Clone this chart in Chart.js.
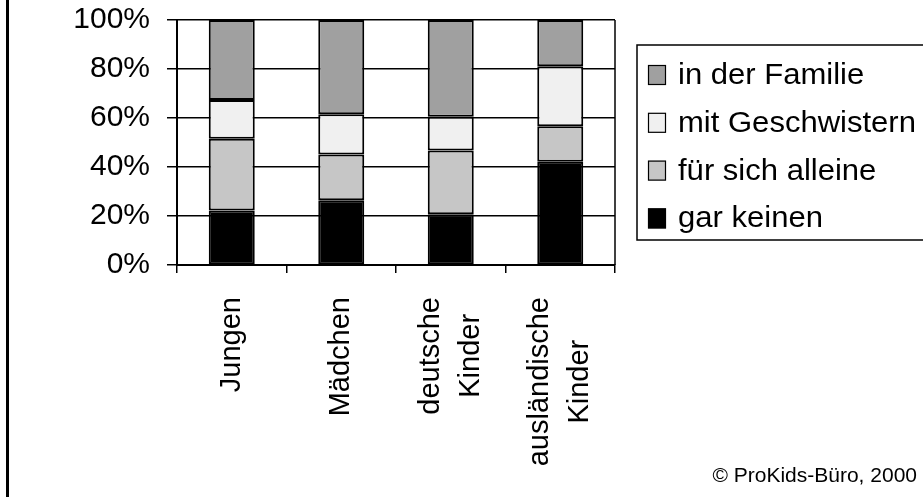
<!DOCTYPE html>
<html lang="de">
<head>
<meta charset="UTF-8">
<title>Spielpartner</title>
<script src="https://cdn.jsdelivr.net/npm/chart.js"></script>
<style>
  html, body { margin: 0; padding: 0; background: #fff; }
  #box { width: 923px; height: 497px; position: relative; }
</style>
</head>
<body>
<div id="box"><canvas id="chart"></canvas></div>
<script>
// Daten
const kategorien = [['Jungen'], ['Mädchen'], ['deutsche', 'Kinder'], ['ausländische', 'Kinder']];
const garKeinen = [22.2, 26.4, 20.7, 42.1];
const fuerSichAlleine = [29.3, 18.7, 26.0, 14.5];
const mitGeschwistern = [15.8, 16.4, 13.8, 24.5];
const inDerFamilie = [32.7, 38.5, 39.5, 18.9];
const yTicks = [0, 20, 40, 60, 80, 100];
const quelle = '© ProKids-Büro, 2000';

const FONT = '"Liberation Sans", Arial, sans-serif';

// eigene Zeichnungen: Achsenbeschriftung, Legende, Rahmen
const extras = {
  id: 'extras',
  afterDraw(chart) {
    const ctx = chart.ctx;
    const a = chart.chartArea;
    const xs = chart.scales.x;
    ctx.save();

    // linker Rahmen
    ctx.fillStyle = '#000';
    ctx.fillRect(6, 0, 3, 497);

    // rechte Kante der Zeichenfläche
    ctx.strokeStyle = '#000';
    ctx.lineWidth = 1.5;
    ctx.beginPath();
    ctx.moveTo(a.right, a.top);
    ctx.lineTo(a.right, a.bottom);
    ctx.stroke();

    // Kategorien, gedreht, Zeilen zentriert
    ctx.font = '29px ' + FONT;
    ctx.fillStyle = '#000';
    ctx.textAlign = 'center';
    ctx.textBaseline = 'middle';
    kategorien.forEach((lines, i) => {
      const x = xs.getPixelForValue(i);
      const w = Math.max(...lines.map(t => ctx.measureText(t).width));
      ctx.save();
      ctx.translate(x, 297);
      ctx.rotate(-Math.PI / 2);
      lines.forEach((t, j) => {
        ctx.fillText(t, -w / 2, (j - (lines.length - 1) / 2) * 40);
      });
      ctx.restore();
    });

    // Legende
    ctx.lineWidth = 1.5;
    ctx.strokeRect(637, 45, 300, 195);
    const ds = chart.data.datasets.slice().reverse();
    ctx.textAlign = 'left';
    ds.forEach((d, i) => {
      const cy = 75 + i * 47.8;
      ctx.fillStyle = d.backgroundColor;
      ctx.fillRect(648, cy - 10, 18, 20);
      ctx.lineWidth = 1.2;
      ctx.strokeRect(648.5, cy - 9.5, 17, 19);
      ctx.fillStyle = '#000';
      ctx.save();
      ctx.translate(678, cy + 1);
      ctx.scale(1.07, 1);
      ctx.fillText(d.label, 0, 0);
      ctx.restore();
    });

    // Quelle
    ctx.font = '21px ' + FONT;
    ctx.textAlign = 'right';
    ctx.fillText(quelle, 917, 476);
    ctx.restore();
  }
};

const ds = (label, data, color) => ({
  label, data,
  backgroundColor: color,
  borderColor: '#000',
  borderWidth: 2,
  borderSkipped: false,
  categoryPercentage: 1,
  barPercentage: 0.42
});

new Chart(document.getElementById('chart'), {
  type: 'bar',
  data: {
    labels: kategorien.map(l => l.join(' ')),
    datasets: [
      ds('gar keinen', garKeinen, '#000000'),
      ds('für sich alleine', fuerSichAlleine, '#c6c6c6'),
      ds('mit Geschwistern', mitGeschwistern, '#f0f0f0'),
      ds('in der Familie', inDerFamilie, '#a0a0a0')
    ]
  },
  options: {
    responsive: true,
    maintainAspectRatio: false,
    animation: false,
    layout: { padding: { left: 0, right: 308, top: 20, bottom: 0 } },
    plugins: { legend: { display: false }, tooltip: { enabled: false } },
    scales: {
      x: {
        stacked: true,
        ticks: { display: false },
        grid: { drawOnChartArea: false, drawTicks: true, tickLength: 8, color: '#000', lineWidth: 1.5 },
        border: { color: '#000', width: 2 },
        afterFit(s) { s.height = 232; s.paddingLeft = 0; s.paddingRight = 0; }
      },
      y: {
        stacked: true,
        min: 0,
        max: 100,
        afterBuildTicks(s) { s.ticks = yTicks.map(v => ({ value: v })); },
        ticks: {
          color: '#000',
          font: { family: FONT, size: 30 },
          padding: 17,
          callback: v => v + '%'
        },
        grid: { color: '#000', lineWidth: 1.5, tickLength: 10 },
        border: { color: '#000', width: 2 },
        afterFit(s) { s.width = 177; s.paddingTop = 0; s.paddingBottom = 0; }
      }
    }
  },
  plugins: [extras]
});
</script>
</body>
</html>
